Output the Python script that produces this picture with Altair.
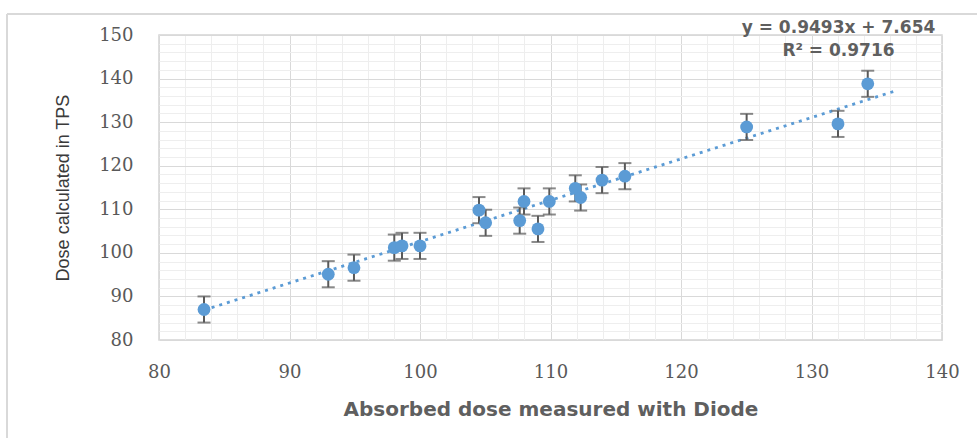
import altair as alt
import pandas as pd

# ---- data ----
dose_diode = [83.45, 92.97, 94.94, 98.03, 98.62, 100.0, 104.52, 105.03, 107.97, 107.64,
              109.04, 109.91, 111.9, 112.31, 113.95, 115.7, 125.03, 132.03, 134.31]
dose_tps = [87.0, 95.1, 96.6, 101.2, 101.6, 101.6, 109.8, 106.9, 111.8, 107.4,
            105.5, 111.8, 114.8, 112.7, 116.7, 117.6, 128.9, 129.6, 138.8]
dose_err = [3, 3, 3, 3, 3, 3, 3, 3, 3, 3, 3, 3, 3, 3, 3, 3, 3, 3, 3]

trend_x = [83.45, 136.3]
trend_y = [86.87, 137.04]

equation_lines = ["y = 0.9493x + 7.654", "R² = 0.9716"]

major_x = [80, 90, 100, 110, 120, 130, 140]
major_y = [80, 90, 100, 110, 120, 130, 140, 150]
minor_x = [80, 82, 84, 86, 88, 90, 92, 94, 96, 98, 100, 102, 104, 106, 108, 110, 112, 114,
           116, 118, 120, 122, 124, 126, 128, 130, 132, 134, 136, 138, 140]
minor_y = [80, 82, 84, 86, 88, 90, 92, 94, 96, 98, 100, 102, 104, 106, 108, 110, 112, 114,
           116, 118, 120, 122, 124, 126, 128, 130, 132, 134, 136, 138, 140, 142, 144, 146,
           148, 150]

df = pd.DataFrame({"x": dose_diode, "y": dose_tps, "err": dose_err})
trend_df = pd.DataFrame({"x": trend_x, "y": trend_y})

xs = alt.Scale(domain=[80, 140], nice=False, zero=False)
ys = alt.Scale(domain=[80, 150], nice=False, zero=False)

LABEL_FONT = "DejaVu Serif"
GRAY = "#5f5f5f"

# minor gridlines
minor = alt.Chart(df).mark_circle(size=0, opacity=0).encode(
    x=alt.X("x:Q", scale=xs, axis=alt.Axis(values=minor_x, grid=True, gridColor="#eeeeee",
                                           gridWidth=1, labels=False, ticks=False, domain=False,
                                           title=None, orient="bottom")),
    y=alt.Y("y:Q", scale=ys, axis=alt.Axis(values=minor_y, grid=True, gridColor="#eeeeee",
                                           gridWidth=1, labels=False, ticks=False, domain=False,
                                           title=None, orient="left")),
)

# major gridlines + labels + titles
major = alt.Chart(df).mark_circle(size=0, opacity=0).encode(
    x=alt.X("x:Q", scale=xs, axis=alt.Axis(
        values=major_x, grid=True, gridColor="#d9d9d9", gridWidth=1, ticks=False, tickSize=0,
        domain=False, orient="bottom", labelFont=LABEL_FONT, labelFontSize=18,
        labelFontWeight="normal", labelColor="#595959", labelPadding=23, labelFlush=False,
        labelOverlap=False,
        title="Absorbed dose measured with Diode", titleFont="DejaVu Sans",
        titleFontSize=20, titleFontWeight="bold", titleColor=GRAY,
        titleY=75, titleBaseline="alphabetic")),
    y=alt.Y("y:Q", scale=ys, axis=alt.Axis(
        values=major_y, grid=True, gridColor="#d9d9d9", gridWidth=1, ticks=False, tickSize=0,
        domain=False, orient="left", labelFont=LABEL_FONT, labelFontSize=18,
        labelFontWeight="normal", labelColor="#595959", labelPadding=26, labelFlush=False,
        labelOverlap=False,
        title="Dose calculated in TPS", titleFont="Liberation Sans", titleFontSize=18,
        titleFontWeight="normal", titleColor="#3a3a3a", titleX=-91,
        titleBaseline="alphabetic")),
)

trend = alt.Chart(trend_df).mark_line(
    color="#5b9bd5", strokeWidth=2.8, strokeDash=[3, 5]
).encode(
    x=alt.X("x:Q", scale=xs, axis=None),
    y=alt.Y("y:Q", scale=ys, axis=None),
)

base_err = alt.Chart(df).transform_calculate(
    lo="datum.y - datum.err", hi="datum.y + datum.err"
)

err_rule = base_err.mark_rule(color="#595959", strokeWidth=2).encode(
    x=alt.X("x:Q", scale=xs, axis=None),
    y=alt.Y("lo:Q", scale=ys, axis=None),
    y2="hi:Q",
)
err_top = base_err.mark_tick(color="#595959", thickness=2, size=13, orient="horizontal").encode(
    x=alt.X("x:Q", scale=xs, axis=None),
    y=alt.Y("hi:Q", scale=ys, axis=None),
)
err_bot = base_err.mark_tick(color="#595959", thickness=2, size=13, orient="horizontal").encode(
    x=alt.X("x:Q", scale=xs, axis=None),
    y=alt.Y("lo:Q", scale=ys, axis=None),
)

points = alt.Chart(df).mark_point(
    filled=True, shape="circle", size=165, color="#5b9bd5", opacity=1
).encode(
    x=alt.X("x:Q", scale=xs, axis=None),
    y=alt.Y("y:Q", scale=ys, axis=None),
)

eq1 = alt.Chart(pd.DataFrame({"t": [equation_lines[0]]})).mark_text(
    font="DejaVu Sans", fontSize=17, fontWeight="bold", color=GRAY,
    align="center", baseline="middle"
).encode(text="t:N", x=alt.value(679.5), y=alt.value(-7))

eq2 = alt.Chart(pd.DataFrame({"t": [equation_lines[1]]})).mark_text(
    font="DejaVu Sans", fontSize=17, fontWeight="bold", color=GRAY,
    align="center", baseline="middle"
).encode(text="t:N", x=alt.value(679.5), y=alt.value(15.5))

frame_df = pd.DataFrame({"a": [0]})
border_left = alt.Chart(frame_df).mark_rule(color="#d9d9d9", strokeWidth=2).encode(
    x=alt.value(-152), y=alt.value(-21), y2=alt.value(410)
)
border_top = alt.Chart(frame_df).mark_rule(color="#d9d9d9", strokeWidth=2).encode(
    x=alt.value(-152), x2=alt.value(830), y=alt.value(-21)
)

chart = alt.layer(
    minor, major, border_left, border_top, trend, err_rule, err_top, err_bot, points, eq1, eq2
).resolve_axis(
    x="independent", y="independent"
).properties(
    width=783, height=305,
    autosize=alt.AutoSizeParams(type="none"),
    padding={"left": 159, "top": 35, "right": 35, "bottom": 98},
    background="white",
).configure_view(
    stroke="#d4d4d4", strokeWidth=1.5
)

chart.save("out.html", embed_options={"renderer": "svg", "actions": False})
